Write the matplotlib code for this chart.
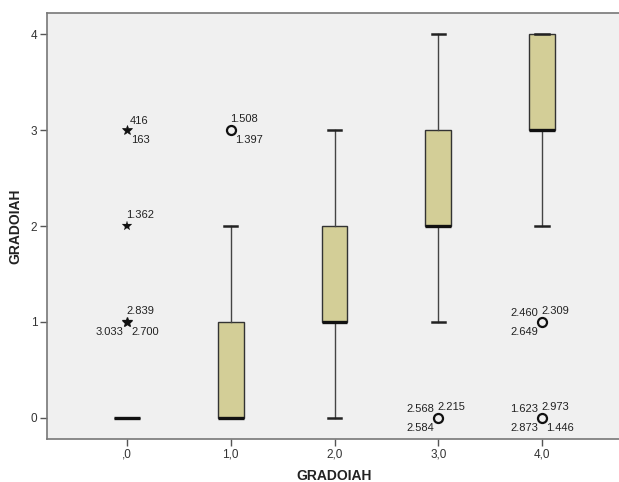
import matplotlib

matplotlib.use("Agg")
import matplotlib.pyplot as plt

plt.rcParams["font.family"] = ["Liberation Sans", "DejaVu Sans"]

# Box summary per GRADOIAH group
categories = [0, 1, 2, 3, 4]
tick_labels = [",0", "1,0", "2,0", "3,0", "4,0"]
whisker_low = [0, 0, 0, 1, 2]
q1 = [0, 0, 1, 2, 3]
median = [0, 0, 1, 2, 3]
q3 = [0, 1, 2, 3, 4]
whisker_high = [0, 2, 3, 4, 4]

# Outliers: group, value, marker kind, case labels with their placement
outlier_group = [0, 0, 0, 1, 3, 4, 4]
outlier_value = [3, 2, 1, 3, 0, 1, 0]
outlier_extreme = [True, True, True, False, False, False, False]
outlier_cases = [
    [("416", "ur"), ("163", "lr")],
    [("1.362", "u")],
    [("2.839", "u"), ("3.033", "ll"), ("2.700", "lr")],
    [("1.508", "u"), ("1.397", "lr")],
    [("2.568", "ul"), ("2.215", "u"), ("2.584", "ll")],
    [("2.460", "ul"), ("2.309", "u"), ("2.649", "ll")],
    [("1.623", "ul"), ("2.973", "u"), ("2.873", "ll"), ("1.446", "lr")],
]

# pixel offsets and alignment for each label placement
placement = {
    "u": ((-1, 11), "left"),
    "ur": ((3, 9), "left"),
    "lr": ((4, -10), "left"),
    "ul": ((-4, 9), "right"),
    "ll": ((-4, -10), "right"),
}

fig = plt.figure(figsize=(6.19, 4.82), dpi=100)
fig.patch.set_facecolor("white")
ax = fig.add_axes([47 / 619, 43 / 482, 575 / 619, 426 / 482])
ax.set_facecolor("#f0f0f0")

stats = []
for i in range(len(categories)):
    stats.append({
        "whislo": whisker_low[i], "q1": q1[i], "med": median[i],
        "q3": q3[i], "whishi": whisker_high[i], "fliers": [],
    })

ax.bxp(
    stats, positions=categories, widths=0.25, patch_artist=True,
    showfliers=False,
    boxprops=dict(facecolor="#d3ce97", edgecolor="#333333", linewidth=1.0),
    medianprops=dict(color="#111111", linewidth=2.4, solid_capstyle="butt"),
    whiskerprops=dict(color="#444444", linewidth=1.0),
    capprops=dict(color="#222222", linewidth=1.8),
    capwidths=0.13,
)

for g, v, extreme, cases in zip(outlier_group, outlier_value, outlier_extreme, outlier_cases):
    if extreme:
        mew = 0.1 + 0.4 * (len(cases) - 1)
        ax.plot(g, v, marker="*", ms=7.5, color="#111111", mec="#111111",
                mew=mew, linestyle="none", zorder=4)
    else:
        ax.plot(g, v, marker="o", ms=6.5, mfc="none", mec="#111111",
                mew=1.6, linestyle="none", zorder=4)
    for text, pos in cases:
        offset, ha = placement[pos]
        ax.annotate(text, (g, v), xytext=offset, textcoords="offset pixels",
                    ha=ha, va="center", fontsize=8, color="#222222")

ax.set_xlim(-0.771, 4.771)
ax.set_ylim(-0.219, 4.219)
ax.set_xticks(categories)
ax.set_xticklabels(tick_labels)
ax.set_yticks([0, 1, 2, 3, 4])
ax.set_yticklabels(["0", "1", "2", "3", "4"])
ax.tick_params(axis="both", labelsize=8.5, labelcolor="#333333",
               color="#555555", length=5, width=1, pad=2)

for side in ["left", "bottom", "top", "right"]:
    ax.spines[side].set_color("#777777")
    ax.spines[side].set_linewidth(1.2)

ax.set_xlabel("GRADOIAH", fontsize=10, fontweight="bold", color="#222222", labelpad=6)
ax.set_ylabel("GRADOIAH", fontsize=10, fontweight="bold", color="#222222", labelpad=6)

fig.savefig("out.png", dpi=100)
